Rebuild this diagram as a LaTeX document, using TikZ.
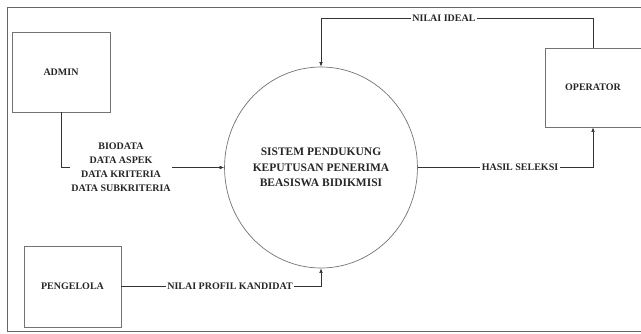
\documentclass[tikz,border=0pt]{standalone}
\usepackage{fontspec}
\setmainfont{Liberation Serif}
\usetikzlibrary{arrows.meta,shapes.geometric}
\begin{document}
\begin{tikzpicture}[x=1pt,y=-1pt,
  entity/.style={draw=black!55, line width=0.7pt, inner sep=0pt,
    font=\fontsize{10}{12}\selectfont\bfseries, text=black!85},
  process/.style={ellipse, draw=black!55, line width=0.7pt, inner sep=0pt,
    align=center, font=\fontsize{11.5}{15.3}\selectfont\bfseries, text=black!85},
  flow/.style={draw=black!80, line width=0.6pt, -{Latex[length=4.5pt,width=3.6pt]}},
  flowlabel/.style={fill=white, inner xsep=1.5pt, inner ysep=1pt, align=center,
    font=\fontsize{10}{14}\selectfont\bfseries, text=black!85},
]
\useasboundingbox (0,0) rectangle (641,333);
% outer frame
\draw[black!60, line width=0.8pt] (7,7) rectangle (660,331);

% external entities
\node[entity, minimum width=98pt, minimum height=80pt] (admin) at (61,72) {ADMIN};
\node[entity, minimum width=97pt, minimum height=81pt] (pengelola) at (72.5,286.5) {PENGELOLA};
\node[entity, minimum width=96pt, minimum height=79pt] (operator) at (593,87.5) {OPERATOR};

% central process
\node[process, minimum width=183pt, minimum height=201pt] (sys) at (321,167.5)
  {SISTEM PENDUKUNG\\KEPUTUSAN PENERIMA\\BEASISWA BIDIKMISI};

% data flows
\draw[flow] (admin.south) |- (sys.west);
\node[flowlabel] (lbladmin) at (121,167.5)
  {BIODATA\\DATA ASPEK\\DATA KRITERIA\\DATA SUBKRITERIA};

\coordinate (topR) at (593,18);
\coordinate (topL) at (321,18);
\draw[flow] (operator.north) -- (topR) -- (topL) -- (sys.north);
\node[flowlabel] (lblideal) at (444,18) {NILAI IDEAL};

\draw[flow] (sys.east) -| (operator.south);
\node[flowlabel] (lblhasil) at (520,167.5) {HASIL SELEKSI};

\draw[flow] (pengelola.east) -| (sys.south);
\node[flowlabel] (lblprofil) at (230,286.5) {NILAI PROFIL KANDIDAT};
\end{tikzpicture}
\end{document}
